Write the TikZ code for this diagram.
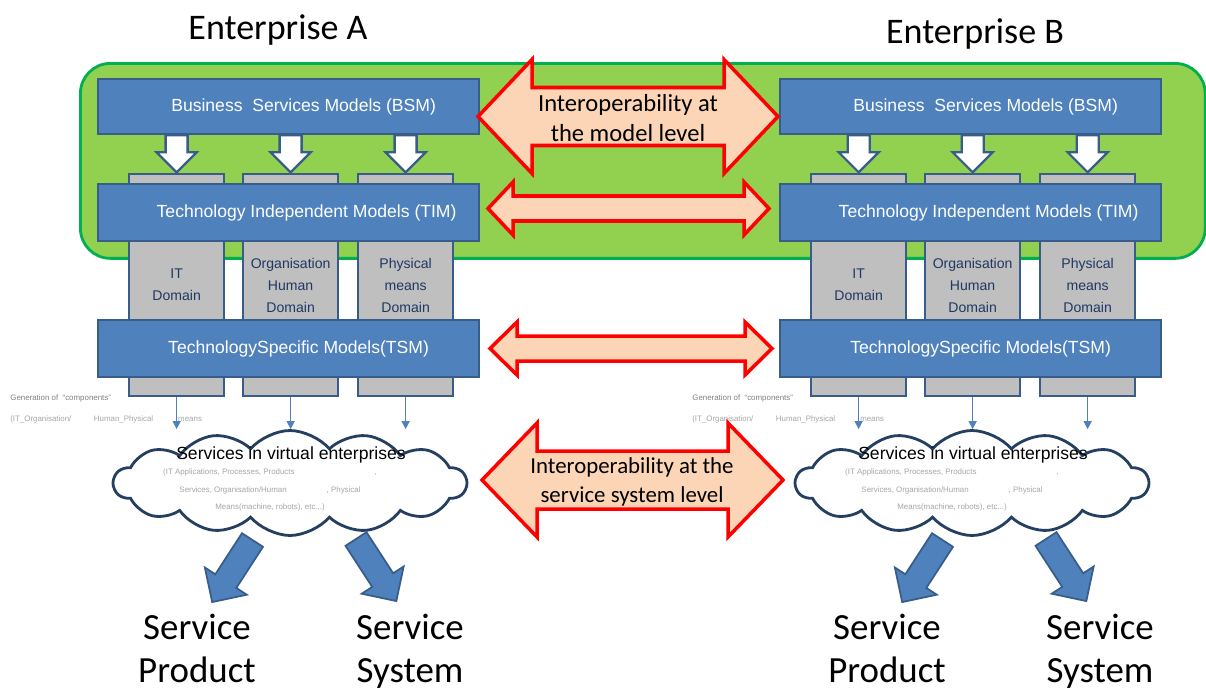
\documentclass[tikz,border=0pt]{standalone}
\usepackage{fontspec}
\setmainfont{Carlito}
\newfontfamily\arialfont{Liberation Sans}
\usepackage{tikz}
\usetikzlibrary{arrows.meta, shapes.symbols}
\definecolor{modelblue}{HTML}{4F81BD}
\definecolor{modeledge}{HTML}{385D8A}
\definecolor{panelgreen}{HTML}{92D050}
\definecolor{paneledge}{HTML}{00B050}
\definecolor{domaingray}{HTML}{BFBFBF}
\definecolor{domaintext}{HTML}{1F3864}
\definecolor{cloudedge}{HTML}{243F60}
\definecolor{interfill}{HTML}{FBD5B5}
\definecolor{faintgray}{HTML}{A6A6A6}

% white block arrow BSM -> domain, #1 = tail point
\newcommand{\bsmarrow}[1]{%
  \draw[bsmarr] (#1) ++(-11,0) -- ++(0,17) -- ++(-9,0) -- ++(20,20) -- ++(20,-20)
    -- ++(-9,0) -- ++(0,-17) -- cycle;}
% two-headed block arrow: x, y, half length, head length, half head, half shaft
\newcommand{\interarrow}[6]{%
  \begin{scope}[shift={(#1,#2)}]
    \draw[interop] (-#3,0) -- (-#3+#4,-#5) -- (-#3+#4,-#6) -- (#3-#4,-#6) -- (#3-#4,-#5)
      -- (#3,0) -- (#3-#4,#5) -- (#3-#4,#6) -- (-#3+#4,#6) -- (-#3+#4,#5) -- cycle;
  \end{scope}}
% blue block arrow out of the cloud: tail x, tail y, angle
\newcommand{\outarrow}[3]{%
  \begin{scope}[shift={(#1,#2)}, rotate=#3]
    \draw[outarr] (0,-12.5) -- (49,-12.5) -- (49,-25) -- (74,0) -- (49,25) -- (49,12.5)
      -- (0,12.5) -- cycle;
  \end{scope}}

\begin{document}
\begin{tikzpicture}[x=0.02cm, y=-0.02cm,
  panel/.style={
    rectangle, rounded corners=0.6cm, anchor=north west,
    minimum width=22.5cm, minimum height=3.9cm,
    fill=panelgreen, draw=paneledge, line width=1.6pt
  },
  model/.style={
    rectangle, anchor=north west, inner sep=0pt,
    minimum width=7.62cm,
    fill=modelblue, draw=modeledge, line width=1.3pt,
    text=white, font=\arialfont\fontsize{10}{12}\selectfont
  },
  domainbox/.style={
    rectangle, anchor=north west,
    minimum width=1.9cm, minimum height=4.44cm,
    fill=domaingray, draw=modeledge, line width=1.3pt,
    align=center, text=domaintext, font=\arialfont\fontsize{8}{12.5}\selectfont
  },
  svcloud/.style={
    cloud, cloud puffs=14, cloud puff arc=100, cloud ignores aspect,
    minimum width=7.05cm, minimum height=2.1cm,
    fill=white, draw=cloudedge, line width=1.6pt
  },
  cloudtitle/.style={font=\arialfont\fontsize{10}{12}\selectfont, inner sep=0pt},
  faint/.style={text=faintgray, inner sep=0pt},
  outcome/.style={anchor=north, align=center, inner sep=0pt, font=\fontsize{21}{24.5}\selectfont},
  enterprise/.style={anchor=base, inner sep=0pt, font=\fontsize{20.5}{24}\selectfont},
  interlabel/.style={align=center, inner sep=0pt},
  bsmarr/.style={fill=white, draw=modeledge, line width=1.3pt},
  interop/.style={fill=interfill, draw=red, line width=2pt},
  outarr/.style={fill=modelblue, draw=modeledge, line width=1pt},
  link/.style={-{Triangle[length=4.5pt, width=4.5pt]}, draw=modelblue, line width=0.8pt}
]
  \useasboundingbox (0,0) rectangle (1206,690);

  % green model-level panel
  \node[panel] (panel) at (79,62) {};

  \foreach \s/\dx/\ex in {A/0/0, B/682/690} {
    % domains behind the model layers
    \node[domainbox] (it\s)  at (128+\dx,173) {IT\\Domain};
    \node[domainbox] (org\s) at (242+\dx,173) {Organisation\\Human\\Domain};
    \node[domainbox] (phy\s) at (357+\dx,173) {Physical\\means\\Domain};

    % model layers
    \node[model, minimum height=1.1cm]  (bsm\s) at (97+\dx,78)
      {\hspace*{0.6cm}Business\ \ Services Models (BSM)};
    \node[model, minimum height=1.14cm] (tim\s) at (97+\dx,183)
      {\hspace*{0.72cm}Technology Independent Models (TIM)};
    \node[model, minimum height=1.14cm] (tsm\s) at (97+\dx,319)
      {\hspace*{0.4cm}TechnologySpecific Models(TSM)};

    \foreach \c in {it,org,phy}
      \bsmarrow{\c\s.north |- bsm\s.south};

    % services cloud
    \node[svcloud] (cloud\s) at (290+\dx,483) {};
    \node[cloudtitle] (title\s) at (291+\dx,455) {Services in virtual enterprises};
    \node[faint, align=center, font=\arialfont\fontsize{4.5}{10.2}\selectfont] (items\s) at (270+\dx,490)
      {(IT Applications, Processes, Products\hspace{1.6cm},\\
       Services, Organisation/Human\hspace{0.8cm}, Physical\\
       Means(machine, robots), etc...)};
    \node[faint, align=left, anchor=west, font=\arialfont\fontsize{4.5}{12}\selectfont] (gen\s) at (10+\dx,409)
      {\textcolor{gray}{Generation of\ \ “components”}\\
       (IT\_Organisation/\hspace{0.45cm}Human\_Physical\hspace{0.5cm}means};

    \foreach \c in {it,org,phy}
      \draw[link] (\c\s.south) -- (\c\s.south |- cloud\s.north);

    % outcomes
    \outarrow{252.5+\ex}{540}{-123}
    \outarrow{356+\ex}{539}{-57}
    \node[outcome] (prod\s) at (197+\ex,614) {Service\\Product};
    \node[outcome] (sys\s)  at (410+\ex,614) {Service\\System};
  }

  % interoperability between the enterprises
  \interarrow{628}{116.5}{150}{54}{57}{29}
  \interarrow{628.5}{208.5}{140.5}{25}{26.5}{12.5}
  \interarrow{631}{348.5}{141}{27}{26.5}{12.5}
  \interarrow{632.5}{480}{150.5}{55}{57}{29}
  \node[interlabel, font=\fontsize{14}{17.5}\selectfont] (modellvl) at (628,118)
    {Interoperability at\\the model level};
  \node[interlabel, font=\fontsize{13}{16.5}\selectfont] (servicelvl) at (632,482)
    {Interoperability at the\\service system level};

  \node[enterprise] (entA) at (278,39) {Enterprise A};
  \node[enterprise] (entB) at (975,43) {Enterprise B};
\end{tikzpicture}
\end{document}
